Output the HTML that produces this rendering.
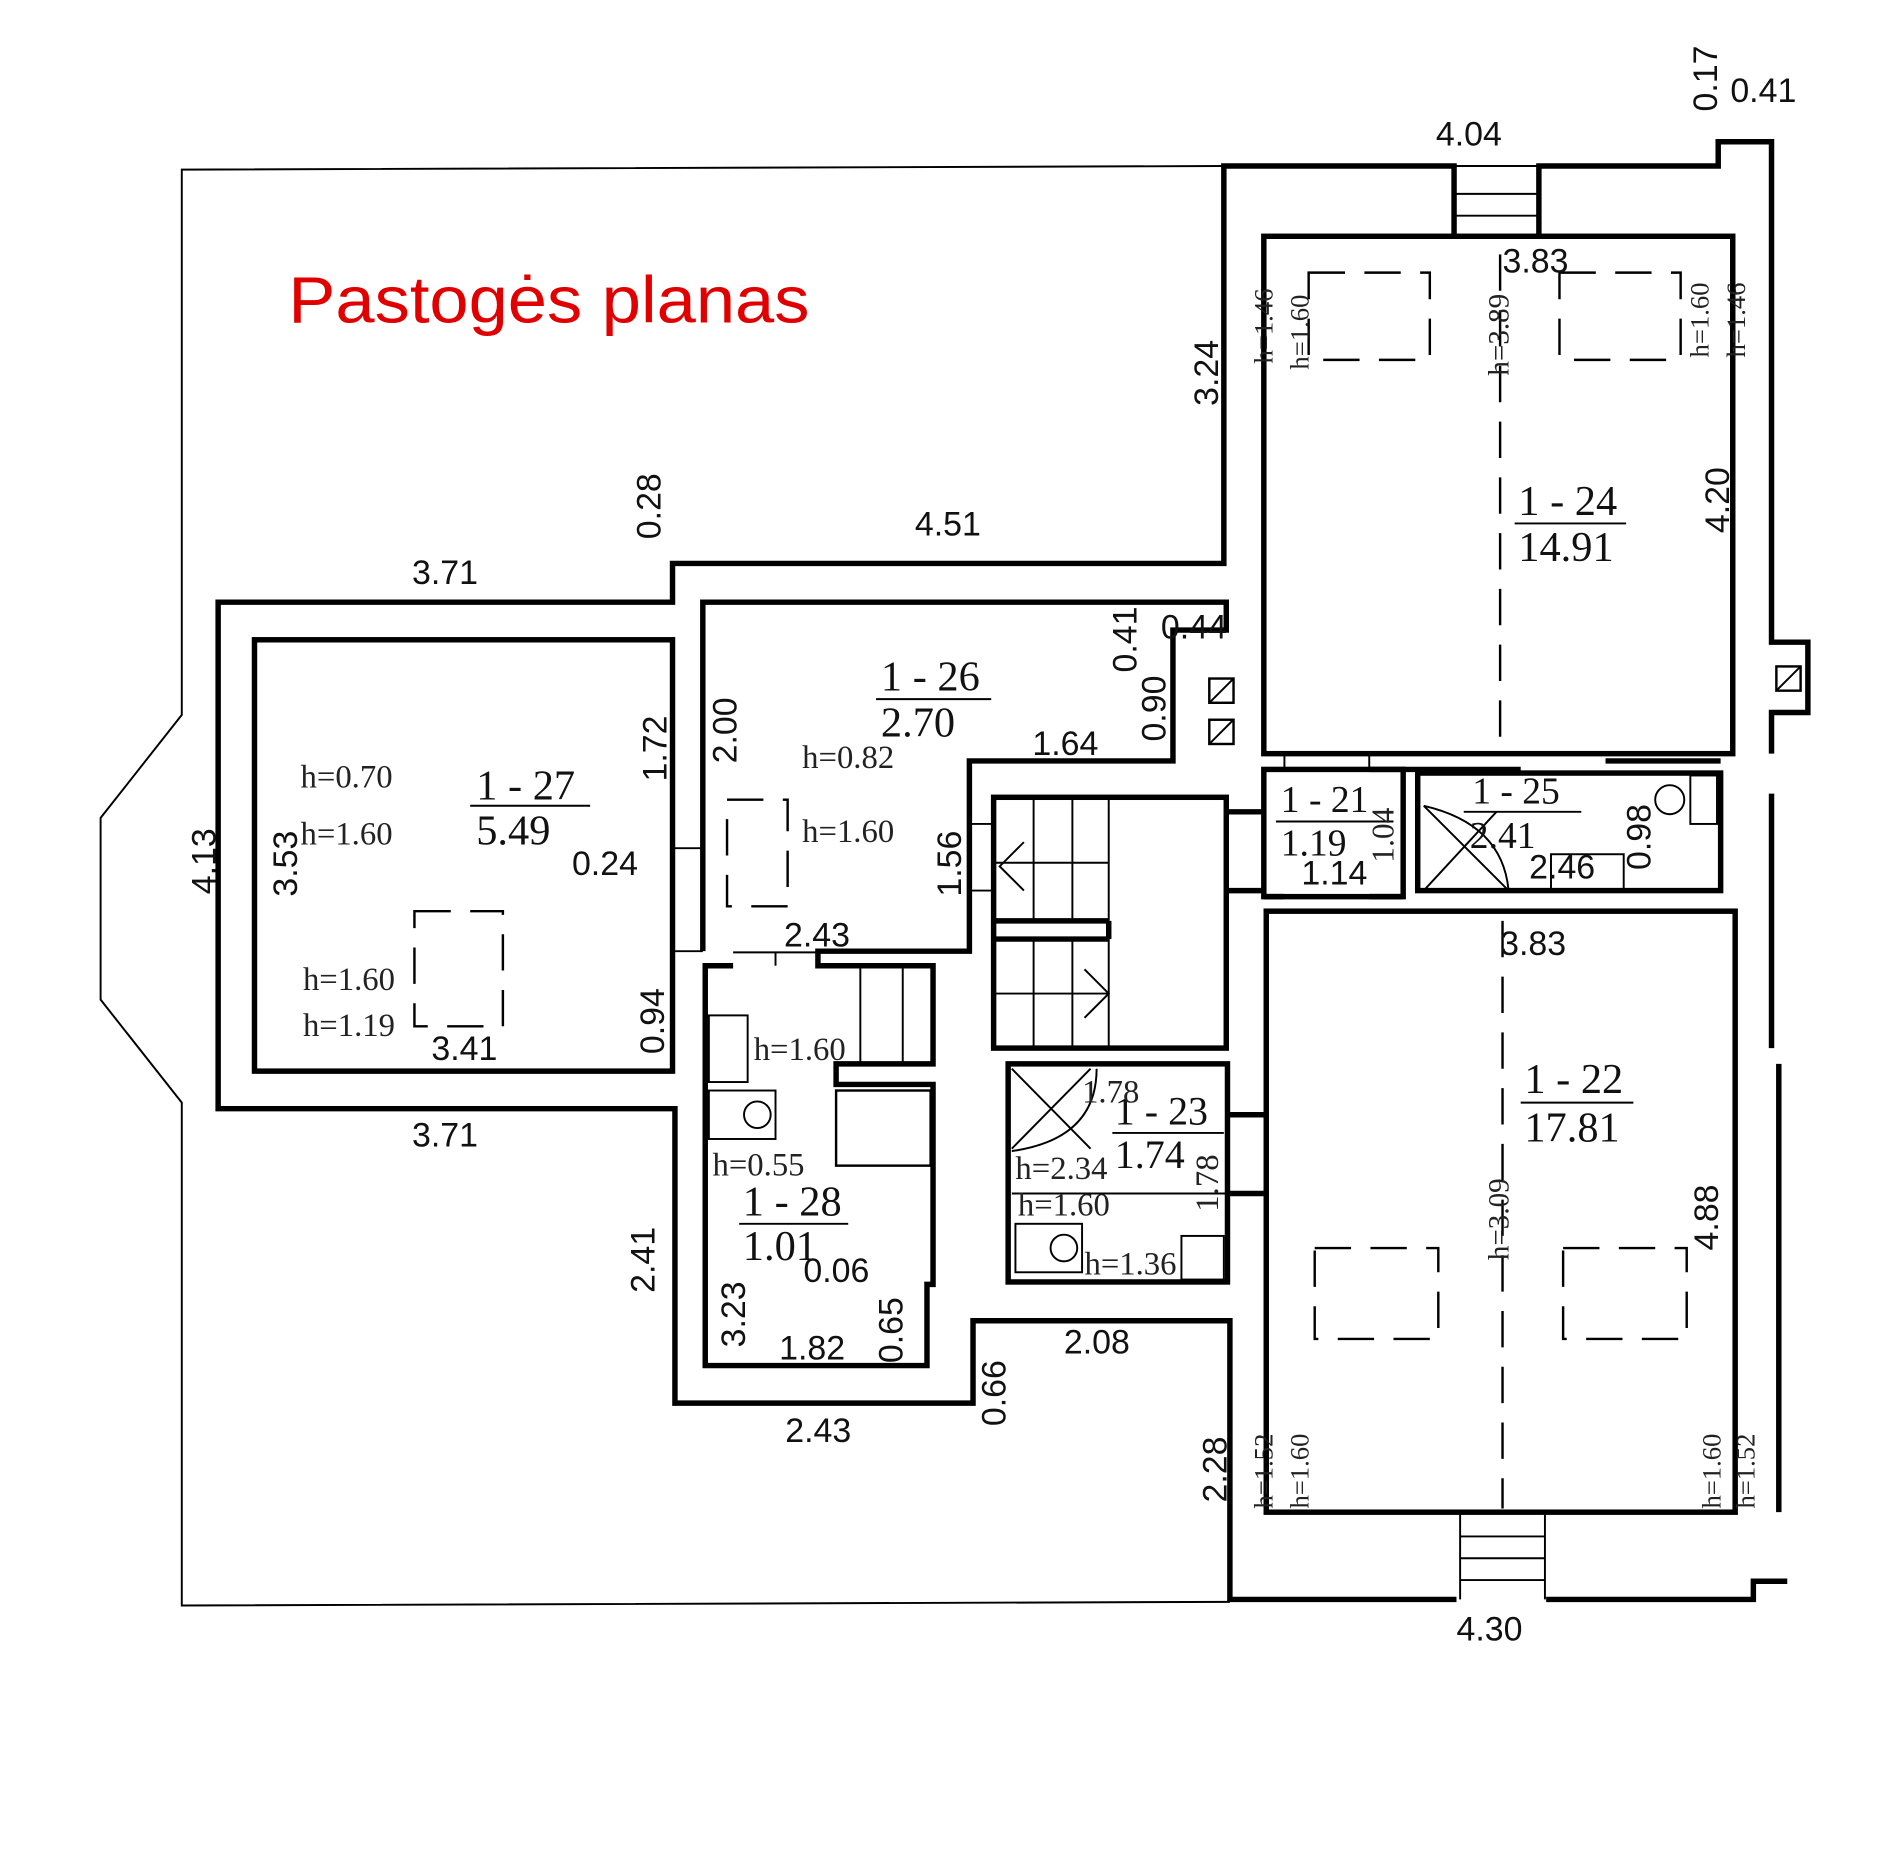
<!DOCTYPE html>
<html><head><meta charset="utf-8"><style>
html,body{margin:0;padding:0;background:#fff}
svg{display:block}
.d{font-family:"Liberation Sans",sans-serif;font-size:28px;fill:#111}
.s{font-family:"Liberation Serif",serif;font-size:27px;fill:#222}
.r{font-family:"Liberation Serif",serif;font-size:35px;fill:#111}
.w{fill:none;stroke:#000;stroke-width:4.5}
.t{fill:none;stroke:#000;stroke-width:1.6}
.m{fill:none;stroke:#000;stroke-width:2}
</style></head><body>
<svg width="1900" height="1866" viewBox="0 0 1568 1540" xmlns="http://www.w3.org/2000/svg">
<rect width="1568" height="1540" fill="#fff"/>
<polyline class="t" points="1010,137 150,140 150,590 83,675 83,825 150,910 150,1325 1015,1322"/>
<polyline class="w" points="1200,195 1200,137 1010,137 1010,465 555,465 555,497 180,497 180,915 557,915 557,1158 803,1158 803,1090 1015,1090 1015,1320 1202,1320"/>
<polyline class="w" points="1270,195 1270,137 1418,137 1418,117 1462,117 1462,530 1492,530 1492,588 1462,588 1462,622"/>
<line class="w" x1="1462" y1="655" x2="1462" y2="865"/>
<line class="w" x1="1468" y1="878" x2="1468" y2="1248"/>
<polyline class="w" points="1276,1320 1447,1320 1447,1305 1475,1305"/>
<line class="t" x1="1202" y1="137" x2="1270" y2="137"/><line class="t" x1="1202" y1="160" x2="1270" y2="160"/><line class="t" x1="1202" y1="178" x2="1270" y2="178"/>
<line class="t" x1="1205" y1="1268" x2="1275" y2="1268"/><line class="t" x1="1205" y1="1286" x2="1275" y2="1286"/><line class="t" x1="1205" y1="1304" x2="1275" y2="1304"/>
<line class="t" x1="1205" y1="1250" x2="1205" y2="1320"/><line class="t" x1="1275" y1="1250" x2="1275" y2="1320"/>
<rect class="m" x="1466" y="550" width="20" height="20"/><line class="t" x1="1466" y1="570" x2="1486" y2="550"/>
<rect class="w" x="1043" y="195" width="387" height="427"/>
<rect class="w" x="210" y="528" width="345" height="356"/>
<polyline class="w" points="580,785 580,497 1012,497 1012,520 968,520 968,628 800,628 800,785 675,785 675,797 770,797 770,878 690,878 690,895 770,895 770,1060 765,1060 765,1127 582,1127 582,797 605,797"/>
<line class="t" x1="555" y1="700" x2="580" y2="700"/><line class="t" x1="555" y1="785" x2="580" y2="785"/>
<line class="t" x1="605" y1="786" x2="675" y2="786"/><line class="t" x1="640" y1="786" x2="640" y2="797"/>
<rect class="w" x="820" y="658" width="192" height="207"/>
<line class="w" x1="820" y1="760" x2="915" y2="760"/><line class="w" x1="820" y1="775" x2="915" y2="775"/><line class="w" x1="915" y1="760" x2="915" y2="775"/>
<line class="t" x1="853" y1="658" x2="853" y2="760"/><line class="t" x1="885" y1="658" x2="885" y2="760"/><line class="t" x1="915" y1="658" x2="915" y2="760"/>
<line class="t" x1="820" y1="712" x2="915" y2="712"/><line class="t" x1="853" y1="775" x2="853" y2="865"/><line class="t" x1="885" y1="775" x2="885" y2="865"/><line class="t" x1="915" y1="775" x2="915" y2="865"/>
<line class="t" x1="820" y1="820" x2="915" y2="820"/>
<polyline class="t" points="845,695 825,715 845,735"/><polyline class="t" points="895,800 915,820 895,840"/>
<line class="t" x1="800" y1="680" x2="820" y2="680"/><line class="t" x1="800" y1="735" x2="820" y2="735"/>
<line class="w" x1="1012" y1="670" x2="1043" y2="670"/><line class="w" x1="1012" y1="735" x2="1043" y2="735"/>
<rect class="w" x="1043" y="635" width="115" height="105"/>
<line class="t" x1="1060" y1="622" x2="1060" y2="635"/><line class="t" x1="1130" y1="622" x2="1130" y2="635"/>
<line class="w" x1="1130" y1="635" x2="1255" y2="635"/><line class="w" x1="1325" y1="628" x2="1420" y2="628"/>
<rect class="w" x="1170" y="638" width="250" height="97"/>
<path class="t" d="M1175,665 Q1240,680 1245,735"/><line class="t" x1="1175" y1="665" x2="1245" y2="735"/><line class="t" x1="1175" y1="735" x2="1235" y2="670"/>
<rect class="t" x="1280" y="705" width="60" height="30"/>
<rect class="t" x="1395" y="640" width="22" height="40"/><circle class="t" cx="1378" cy="660" r="12"/>
<rect class="w" x="832" y="878" width="181" height="180"/>
<path class="t" d="M835,950 Q905,940 905,882"/><line class="t" x1="835" y1="882" x2="900" y2="948"/><line class="t" x1="835" y1="948" x2="900" y2="882"/>
<line class="t" x1="835" y1="985" x2="1013" y2="985"/>
<rect class="t" x="838" y="1010" width="55" height="40"/><circle class="t" cx="878" cy="1030" r="11"/>
<rect class="t" x="975" y="1020" width="35" height="36"/>
<line class="w" x1="1013" y1="920" x2="1045" y2="920"/><line class="w" x1="1013" y1="985" x2="1045" y2="985"/>
<rect class="w" x="1045" y="752" width="387" height="496"/>
<line class="w" x1="1043" y1="740" x2="1060" y2="740"/><line class="w" x1="1130" y1="740" x2="1158" y2="740"/>
<line class="t" x1="1060" y1="740" x2="1130" y2="740"/>
<rect class="t" x="585" y="838" width="32" height="55"/><rect class="t" x="585" y="900" width="55" height="40"/><circle class="t" cx="625" cy="920" r="11"/>
<rect class="m" x="690" y="900" width="78" height="62"/>
<line class="t" x1="710" y1="797" x2="710" y2="878"/><line class="t" x1="745" y1="797" x2="745" y2="878"/>
<g class="m" stroke-dasharray="30,16">
<rect x="1080" y="225" width="100" height="72"/><rect x="1287" y="225" width="100" height="72"/>
<rect x="1085" y="1030" width="102" height="75"/><rect x="1290" y="1030" width="102" height="75"/>
<rect x="342" y="752" width="73" height="95"/><rect x="600" y="660" width="50" height="88"/>
<line x1="1238" y1="210" x2="1238" y2="620"/><line x1="1240" y1="760" x2="1240" y2="1245"/>
</g>
<rect class="m" x="998" y="560" width="20" height="20"/><line class="t" x1="998" y1="580" x2="1018" y2="560"/>
<rect class="m" x="998" y="594" width="20" height="20"/><line class="t" x1="998" y1="614" x2="1018" y2="594"/>
<text x="238" y="266" font-family="Liberation Sans,sans-serif" font-size="54" fill="#e00000" textLength="430" lengthAdjust="spacingAndGlyphs">Pastogės planas</text>
<g class="d">
<text x="1185" y="120">4.04</text><text x="1428" y="84">0.41</text>
<text x="1240" y="225">3.83</text><text x="755" y="442">4.51</text><text x="340" y="482">3.71</text>
<text x="958" y="527">0.44</text><text x="852" y="623">1.64</text><text x="472" y="722">0.24</text>
<text x="647" y="781">2.43</text><text x="356" y="875">3.41</text><text x="340" y="946">3.71</text>
<text x="1238" y="788">3.83</text><text x="1262" y="725">2.46</text><text x="1074" y="730">1.14</text>
<text x="663" y="1058">0.06</text><text x="643" y="1122">1.82</text><text x="878" y="1117">2.08</text>
<text x="648" y="1190">2.43</text><text x="1202" y="1354">4.30</text>
</g>
<g class="d">
<text transform="translate(1417,92) rotate(-90)">0.17</text>
<text transform="translate(1005,335) rotate(-90)">3.24</text>
<text transform="translate(545,445) rotate(-90)">0.28</text>
<text transform="translate(938,555) rotate(-90)">0.41</text>
<text transform="translate(962,612) rotate(-90)">0.90</text>
<text transform="translate(608,630) rotate(-90)">2.00</text>
<text transform="translate(550,645) rotate(-90)">1.72</text>
<text transform="translate(178,738) rotate(-90)">4.13</text>
<text transform="translate(245,740) rotate(-90)">3.53</text>
<text transform="translate(793,740) rotate(-90)">1.56</text>
<text transform="translate(548,870) rotate(-90)">0.94</text>
<text transform="translate(1427,440) rotate(-90)">4.20</text>
<text transform="translate(1362,718) rotate(-90)">0.98</text>
<text transform="translate(540,1067) rotate(-90)">2.41</text>
<text transform="translate(615,1112) rotate(-90)">3.23</text>
<text transform="translate(745,1125) rotate(-90)">0.65</text>
<text transform="translate(830,1177) rotate(-90)">0.66</text>
<text transform="translate(1012,1240) rotate(-90)">2.28</text>
<text transform="translate(1418,1032) rotate(-90)">4.88</text>
</g>
<g class="r">
<text x="1253" y="425">1 - 24</text><text x="1253" y="463">14.91</text>
<text x="727" y="570">1 - 26</text><text x="727" y="608">2.70</text>
<text x="393" y="660">1 - 27</text><text x="393" y="697">5.49</text>
<text x="1057" y="670" font-size="31">1 - 21</text><text x="1057" y="706" font-size="31">1.19</text>
<text x="1215" y="663" font-size="31">1 - 25</text><text x="1213" y="700" font-size="31">2.41</text>
<text x="920" y="928" font-size="33">1 - 23</text><text x="920" y="964" font-size="33">1.74</text>
<text x="1258" y="902">1 - 22</text><text x="1258" y="942">17.81</text>
<text x="613" y="1003">1 - 28</text><text x="613" y="1040">1.01</text>
</g>
<g class="t">
<line x1="1250" y1="432" x2="1342" y2="432"/><line x1="723" y1="577" x2="818" y2="577"/>
<line x1="388" y1="665" x2="487" y2="665"/><line x1="1053" y1="678" x2="1150" y2="678"/>
<line x1="1208" y1="670" x2="1305" y2="670"/><line x1="918" y1="935" x2="1010" y2="935"/>
<line x1="1255" y1="910" x2="1348" y2="910"/><line x1="610" y1="1010" x2="700" y2="1010"/>
</g>
<g class="s">
<text x="248" y="650">h=0.70</text><text x="248" y="697">h=1.60</text>
<text x="250" y="817">h=1.60</text><text x="250" y="855">h=1.19</text>
<text x="662" y="634">h=0.82</text><text x="662" y="695">h=1.60</text>
<text x="622" y="875">h=1.60</text><text x="588" y="970">h=0.55</text>
<text x="838" y="973">h=2.34</text><text x="840" y="1003">h=1.60</text><text x="895" y="1052">h=1.36</text>
<text x="893" y="910">1.78</text>
<text transform="translate(1005,1000) rotate(-90)">1.78</text>
<text transform="translate(1150,712) rotate(-90)" font-size="26">1.04</text>
<text transform="translate(1245,310) rotate(-90)" font-size="24">h=3.89</text>
<text transform="translate(1245,1040) rotate(-90)" font-size="24">h=3.09</text>
<text transform="translate(1050,300) rotate(-90)" font-size="22">h=1.46</text>
<text transform="translate(1080,305) rotate(-90)" font-size="22">h=1.60</text>
<text transform="translate(1410,295) rotate(-90)" font-size="22">h=1.60</text>
<text transform="translate(1440,295) rotate(-90)" font-size="22">h=1.46</text>
<text transform="translate(1050,1245) rotate(-90)" font-size="22">h=1.52</text>
<text transform="translate(1080,1245) rotate(-90)" font-size="22">h=1.60</text>
<text transform="translate(1420,1245) rotate(-90)" font-size="22">h=1.60</text>
<text transform="translate(1448,1245) rotate(-90)" font-size="22">h=1.52</text>
</g>
</svg>
</body></html>
